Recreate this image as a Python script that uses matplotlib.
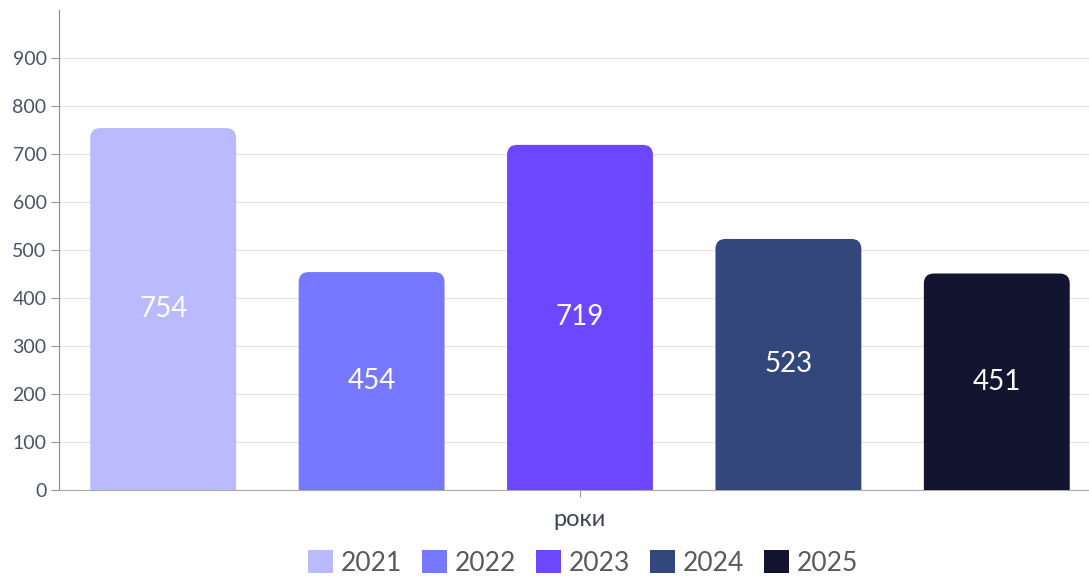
import matplotlib.pyplot as plt
from matplotlib.patches import FancyBboxPatch, Patch

plt.rcParams['font.family'] = ['Lato', 'DejaVu Sans']

years = ['2021', '2022', '2023', '2024', '2025']
values = [754, 454, 719, 523, 451]
colors = ['#b9baff', '#7679ff', '#6c47ff', '#34477d', '#131530']

fig = plt.figure(figsize=(10.89, 5.76), dpi=100)
ax = fig.add_axes([59 / 1089, 1 - 490 / 576, 1042 / 1089, 480 / 576])

ax.set_xlim(-0.5, len(years) - 0.5)
ax.set_ylim(0, 1000)

bar_w = 0.70
px_x = 1042 / 5       # pixels per x unit
px_y = 480 / 1000     # pixels per y unit
radius = 10 / px_x
for i, (v, c) in enumerate(zip(values, colors)):
    # rounded top, bottom part hidden below the axis
    box = FancyBboxPatch((i - bar_w / 2, -40), bar_w, v + 40,
                         boxstyle=f'round,pad=0,rounding_size={radius}',
                         mutation_aspect=px_x / px_y, facecolor=c,
                         edgecolor='none', zorder=3, clip_on=True)
    ax.add_patch(box)
    ax.text(i, v / 2, str(v), ha='center', va='center', color='white',
            fontsize=20, zorder=4)

ax.set_yticks(range(0, 1000, 100))
ax.yaxis.grid(True, color='#e6e6e6', linewidth=1, zorder=0)
ax.tick_params(axis='y', length=6, color='#999999', labelcolor='#4a5366',
               labelsize=14, pad=3, width=0.8)
ax.set_xticks([2])
ax.set_xticklabels([''])
ax.tick_params(axis='x', length=5, color='#999999', width=0.8)

for s in ['top', 'right']:
    ax.spines[s].set_visible(False)
ax.spines['left'].set_color('#888888')
ax.spines['bottom'].set_color('#aaaaaa')

fig.text(580 / 1089, 1 - 520 / 576, 'роки', ha='center', va='center',
         fontsize=17, color='#3c4456')

handles = [Patch(facecolor=c, edgecolor='none') for c in colors]
fig.legend(handles, years, loc='center', bbox_to_anchor=(583 / 1089, 1 - 563 / 576),
           ncol=5, frameon=False, prop={'size': 19},
           labelcolor='#5a5a5a', handlelength=0.95, handleheight=0.95,
           handletextpad=0.3, columnspacing=0.75)

fig.savefig('out.png', dpi=100)
